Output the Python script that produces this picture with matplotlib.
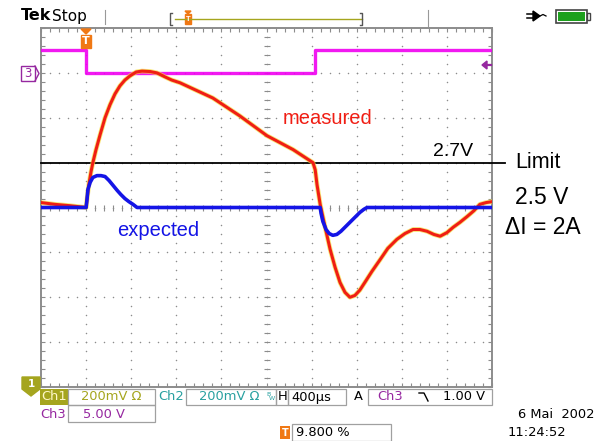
"""Tek scope screenshot: measured vs expected regulator response."""

import matplotlib.pyplot as plt
import numpy as np
from matplotlib.lines import Line2D
from matplotlib.patches import Polygon, Rectangle

W, H = 597, 441

# traces, in screen divisions (x: 0..10, y: -4..4, centre line = 0)
measured_x = [0.0, 0.31, 0.64, 1.00, 1.02, 1.06, 1.11, 1.15, 1.22, 1.31, 1.42, 1.53, 1.64,
              1.75, 1.86, 1.97, 2.11, 2.24, 2.42, 2.57, 2.75, 2.90, 3.08, 3.81, 4.41, 5.01,
              5.59, 6.03, 6.08, 6.12, 6.19, 6.30, 6.41, 6.52, 6.63, 6.74, 6.85, 6.96, 7.07,
              7.18, 7.34, 7.52, 7.69, 7.89, 8.07, 8.25, 8.40, 8.56, 8.71, 8.85, 9.00, 9.14,
              9.29, 9.45, 9.60, 9.73, 9.87, 10.0]
measured_y = [0.11, 0.07, 0.04, 0.0, 0.18, 0.51, 0.80, 1.0, 1.29, 1.62, 2.0, 2.29, 2.53,
              2.71, 2.84, 2.93, 3.02, 3.04, 3.03, 3.0, 2.91, 2.84, 2.78, 2.44, 2.04, 1.60,
              1.29, 1.0, 0.84, 0.51, 0.07, -0.44, -0.93, -1.33, -1.67, -1.89, -2.0, -1.96,
              -1.84, -1.67, -1.42, -1.16, -0.91, -0.71, -0.58, -0.49, -0.49, -0.53, -0.60,
              -0.64, -0.56, -0.44, -0.33, -0.20, -0.07, 0.07, 0.11, 0.13]

expected_x = [0.0, 1.00, 1.02, 1.04, 1.09, 1.15, 1.24, 1.33, 1.42, 1.51, 1.60, 1.69, 1.77,
              1.86, 1.95, 2.04, 2.13, 6.19, 6.21, 6.25, 6.32, 6.39, 6.47, 6.56, 6.65, 6.74,
              6.85, 6.96, 7.07, 7.16, 7.23, 10.0]
expected_y = [0.0, 0.0, 0.18, 0.40, 0.56, 0.67, 0.71, 0.71, 0.69, 0.60, 0.49, 0.38, 0.29,
              0.20, 0.13, 0.07, 0.0, 0.0, -0.13, -0.31, -0.49, -0.58, -0.62, -0.60, -0.53,
              -0.44, -0.33, -0.22, -0.11, -0.04, 0.0, 0.0]

ch3_x = [0.0, 1.0, 1.0, 6.08, 6.08, 10.0]
ch3_y = [3.51, 3.51, 3.0, 3.0, 3.51, 3.51]

limit_level = 1.0
limit_end = 10.29

RED = "#f01e14"
BLUE = "#1414e6"
MAGENTA = "#f000f0"
OLIVE = "#a5a51e"
TEAL = "#28a0a0"
PURPLE = "#9628a0"
ORANGE = "#f07814"
GRID = "#8c8c8c"

plt.rcParams["font.family"] = ["Liberation Sans", "DejaVu Sans"]


def fx(x):
    return x / W


def fy(y):
    return 1 - y / H


def ftext(fig, x, y, s, **kw):
    kw.setdefault("va", "center")
    fig.text(fx(x), fy(y), s, **kw)


def fbox(fig, x0, y0, x1, y1, **kw):
    kw.setdefault("fill", False)
    kw.setdefault("edgecolor", "#a0a0a0")
    kw.setdefault("linewidth", 0.9)
    fig.patches.append(Rectangle((fx(x0), fy(y1)), fx(x1) - fx(x0), fy(y0) - fy(y1),
                                 transform=fig.transFigure, **kw))


def fline(fig, xs, ys, **kw):
    fig.lines.append(Line2D([fx(v) for v in xs], [fy(v) for v in ys],
                            transform=fig.transFigure, **kw))


fig = plt.figure(figsize=(W / 100, H / 100), dpi=100)
ax = fig.add_axes([fx(41), fy(387), fx(492) - fx(41), fy(28) - fy(387)])
ax.set_xlim(0, 10)
ax.set_ylim(-4, 4)

# graticule
for sp in ax.spines.values():
    sp.set_color(GRID)
    sp.set_linewidth(1.4)
ax.set_xticks(np.arange(0, 10.01, 1))
ax.set_yticks(np.arange(-4, 4.01, 1))
ax.set_xticks(np.arange(0, 10.01, 0.2), minor=True)
ax.set_yticks(np.arange(-4, 4.01, 0.2), minor=True)
ax.tick_params(which="both", direction="in", length=3, width=0.8, color=GRID,
               top=True, right=True, labelbottom=False, labelleft=False)

fine_x = np.arange(0, 10.01, 0.2)
fine_y = np.arange(-4, 4.01, 0.2)
for gx in range(1, 10):
    ax.scatter(np.full_like(fine_y, gx), fine_y, s=1.2, color=GRID, lw=0, zorder=1)
for gy in range(-3, 4):
    ax.scatter(fine_x, np.full_like(fine_x, gy), s=1.2, color=GRID, lw=0, zorder=1)
ax.scatter(fine_x, np.zeros_like(fine_x), marker="|", s=14, color=GRID, lw=0.8, zorder=1)
ax.scatter(np.full_like(fine_y, 5), fine_y, marker="_", s=14, color=GRID, lw=0.8, zorder=1)

# traces
ax.plot(ch3_x, ch3_y, color=MAGENTA, lw=2.4, alpha=0.9, zorder=3)
ax.plot([0, limit_end], [limit_level, limit_level], color="black", lw=1.3, zorder=4,
        clip_on=False)
ax.plot(measured_x, measured_y, color="#f5dc3c", lw=3.4, alpha=0.7, zorder=5,
        solid_joinstyle="round")
ax.plot(measured_x, measured_y, color=RED, lw=2.2, zorder=6, solid_joinstyle="round")
ax.plot(expected_x, expected_y, color=BLUE, lw=2.6, zorder=7, solid_joinstyle="round")

# annotations
ftext(fig, 283, 118, "measured", color=RED, fontsize=14.5)
ftext(fig, 117, 231, "expected", color=BLUE, fontsize=14.5)
ftext(fig, 433, 152, "2.7V", color="black", fontsize=14)
ftext(fig, 515, 163, "Limit", color="black", fontsize=15.5)
ftext(fig, 515, 197, "2.5 V", color="black", fontsize=16.5)
ftext(fig, 505, 227, "\u0394I = 2A", color="black", fontsize=16.5)

# top bar
ftext(fig, 21, 16, "Tek", fontsize=11.5, fontweight="bold", family="DejaVu Sans")
ftext(fig, 52, 16, "Stop", fontsize=11, family="DejaVu Sans")
fline(fig, [105, 105], [10, 24], color="#999999", lw=0.8)
fline(fig, [428, 428], [10, 26], color="#999999", lw=0.8)
fline(fig, [175, 362], [19, 19], color=OLIVE, lw=1.0)
fline(fig, [172, 170, 170, 172], [13, 13, 25, 25], color="#555555", lw=1.0)
fline(fig, [360, 362, 362, 360], [13, 13, 25, 25], color="#555555", lw=1.0)
fig.patches.append(Polygon([(fx(185), fy(11)), (fx(191), fy(11)), (fx(188), fy(14))],
                           transform=fig.transFigure, color=ORANGE))
fig.patches.append(Rectangle((fx(185), fy(24)), fx(191) - fx(185), fy(14) - fy(24),
                             transform=fig.transFigure, color=ORANGE))
ftext(fig, 188, 19.5, "T", fontsize=5.5, color="white", ha="center", fontweight="bold")
# plug + battery
fig.patches.append(Polygon([(fx(533), fy(11)), (fx(540), fy(16)), (fx(533), fy(21))],
                           transform=fig.transFigure, color="black"))
fline(fig, [527, 534], [14, 14], color="black", lw=1.1)
fline(fig, [527, 534], [18, 18], color="black", lw=1.1)
fline(fig, [540, 543, 546], [16, 14.5, 16], color="black", lw=0.9)
fbox(fig, 556, 10, 587, 23, edgecolor="#444444", linewidth=1.2)
fbox(fig, 558, 12, 585, 21, fill=True, facecolor="#1ea01e", edgecolor="none")
fbox(fig, 587, 13, 590, 20, edgecolor="#444444", linewidth=1.0)

# trigger marker above graticule
fig.patches.append(Polygon([(fx(81), fy(29)), (fx(91), fy(29)), (fx(86), fy(34))],
                           transform=fig.transFigure, color=ORANGE))
fig.patches.append(Rectangle((fx(81), fy(48)), fx(91) - fx(81), fy(35) - fy(48),
                             transform=fig.transFigure, color=ORANGE))
ftext(fig, 86, 41.5, "T", fontsize=8, color="white", ha="center", fontweight="bold",
      family="DejaVu Sans")

# ch3 ground marker and right arrow
fbox(fig, 21, 66, 35, 81, edgecolor=PURPLE, linewidth=1.0)
fline(fig, [35, 39, 35], [66, 73.5, 81], color=PURPLE, lw=1.0)
ftext(fig, 28, 73.5, "3", fontsize=8.5, color=PURPLE, ha="center", family="DejaVu Sans")
fig.patches.append(Polygon([(fx(482), fy(65)), (fx(487), fy(61)), (fx(487), fy(69))],
                           transform=fig.transFigure, color=PURPLE))
fline(fig, [486, 491], [65, 65], color=PURPLE, lw=1.6)

# ch1 ground marker
fig.patches.append(Polygon([(fx(22), fy(377)), (fx(40), fy(377)), (fx(40), fy(389)),
                            (fx(31), fy(396)), (fx(22), fy(389))],
                           transform=fig.transFigure, color=OLIVE))
ftext(fig, 31, 384, "1", fontsize=7.5, color="white", ha="center", fontweight="bold",
      family="DejaVu Sans")

# status lines
sfont = dict(family="DejaVu Sans", fontsize=9.4)
fbox(fig, 40, 389, 68, 405, fill=True, facecolor=OLIVE, edgecolor="none")
ftext(fig, 41, 397, "Ch1", color="#fff8c8", **sfont)
fbox(fig, 68, 389, 155, 405)
ftext(fig, 81, 397, "200mV \u03a9", color=OLIVE, **sfont)
ftext(fig, 158, 397, "Ch2", color=TEAL, **sfont)
fbox(fig, 186, 389, 276, 405)
ftext(fig, 199, 397, "200mV \u03a9", color=TEAL, **sfont)
ftext(fig, 266, 394, "B", color=TEAL, family="DejaVu Sans", fontsize=4.5)
ftext(fig, 269, 399, "W", color=TEAL, family="DejaVu Sans", fontsize=4.5)
fbox(fig, 276, 389, 288, 405)
ftext(fig, 278, 397, "H", color="black", **sfont)
fbox(fig, 288, 389, 346, 405)
ftext(fig, 291, 397, "400\u00b5s", color="black", **sfont)
ftext(fig, 354, 397, "A", color="black", **sfont)
fbox(fig, 368, 389, 492, 405)
ftext(fig, 377, 397, "Ch3", color=PURPLE, **sfont)
fline(fig, [419, 424, 428], [393, 393, 401], color="black", lw=1.0)
ftext(fig, 443, 397, "1.00 V", color="black", **sfont)

ftext(fig, 40, 414, "Ch3", color=PURPLE, **sfont)
fbox(fig, 68, 405, 155, 422)
ftext(fig, 83, 414, "5.00 V", color=PURPLE, **sfont)

fbox(fig, 280, 426, 290, 439, fill=True, facecolor=ORANGE, edgecolor="none")
ftext(fig, 285, 432.5, "T", fontsize=7, color="white", ha="center", fontweight="bold",
      family="DejaVu Sans")
fbox(fig, 292, 424, 391, 441)
ftext(fig, 296, 432.5, "9.800 %", color="black", **sfont)

ftext(fig, 594, 415, "6 Mai  2002", color="black", ha="right", **sfont)
ftext(fig, 508, 433, "11:24:52", color="black", **sfont)

fig.savefig("out.png", dpi=100)
